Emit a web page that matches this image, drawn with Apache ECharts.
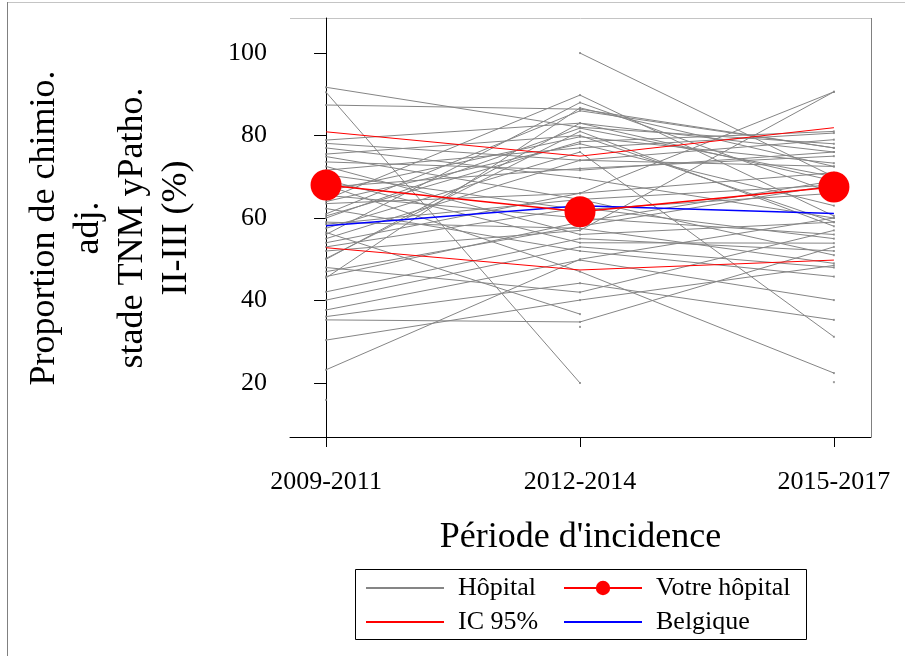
<!DOCTYPE html>
<html>
<head>
<meta charset="utf-8">
<script src="https://cdn.jsdelivr.net/npm/echarts@6/dist/echarts.min.js"></script>
<style>
  html, body { margin: 0; padding: 0; background: #fff; }
  #main { width: 905px; height: 656px; }
</style>
</head>
<body>
<div id="main"></div>
<script>
// périodes d'incidence
const periods = ['2009-2011', '2012-2014', '2015-2017'];
const yTicks = [20, 40, 60, 80, 100];

// valeurs par hôpital (une colonne par période, null = pas de donnée)
const hop2009 = [91.7, 90.5, 87.4, 78.9, 78.1, 77.0, 74.9, 73.6, 72.5, 71.6,
  69.2, 66.5, 65.5, 64.5, 63.5, 62.3, 61.0, 60.0, 59.0, 57.5,
  56.0, 55.0, 54.0, 50.2, 50.0, 45.8, 45.5, 42.1, 40.1, 37.7,
  36.1, 35.3, 30.4, 23.2, 15.9, null, 68.0, 70.5, 58.5, 52.0,
  48.0, 64.0, 67.5, 56.5, null, null, 60.5, 47.0, 75.5, 53.0];
const hop2012 = [82.0, 20.0, 86.4, 83.0, 74.0, 69.7, 64.5, 71.6, 56.0, 77.0,
  54.0, 79.7, 60.0, 89.8, 66.0, 52.0, 86.0, 81.8, 57.5, 76.0,
  88.0, 74.0, 66.0, 81.0, 83.0, 59.0, 86.7, 55.0, 53.0, 49.8,
  44.2, 34.8, 40.1, 50.0, null, 100.0, 47.0, 62.0, 64.5, 57.0,
  42.0, 78.0, 72.0, 36.7, 33.6, null, 78.5, 58.0, 80.0, 62.5];
const hop2015 = [78.0, null, 77.0, 69.0, 72.5, 60.0, 68.0, 76.0, 59.0, 80.6,
  53.9, 73.3, 56.0, 60.5, 71.0, 45.8, 77.0, 70.0, 49.0, 31.2,
  66.0, 79.0, 90.6, 58.0, 76.0, 69.0, 72.5, 52.0, 48.0, 40.1,
  35.3, 53.0, 48.5, 60.0, null, 70.0, 22.4, 66.0, 51.0, 90.6,
  57.0, 63.0, 75.0, null, null, 20.2, 81.0, 68.0, 59.0, 55.0];

const votreHopital = [68.0, 61.5, 67.5];
const icHaut = [80.9, 75.0, 81.9];
const icBas = [52.8, 47.4, 49.8];
const belgique = [58.1, 63.0, 61.1];

const toPoints = arr => arr.map((v, i) => [i, v == null ? '-' : v]);

const series = [];
for (let h = 0; h < hop2009.length; h++) {
  series.push({
    name: 'Hôpital',
    type: 'line',
    data: toPoints([hop2009[h], hop2012[h], hop2015[h]]),
    symbol: 'none',
    lineStyle: { color: '#858585', width: 1 },
    itemStyle: { color: '#858585' },
    silent: true,
    z: 2
  });
}
// petits repères aux points des hôpitaux
const pts = [];
[hop2009, hop2012, hop2015].forEach((col, i) => col.forEach(v => { if (v != null) pts.push([i, v]); }));
series.push({
  name: 'pts', type: 'scatter', data: pts, symbol: 'rect', symbolSize: [2, 2],
  itemStyle: { color: '#858585' }, silent: true, z: 2
});
series.push({
  name: 'IC 95%', type: 'line', data: toPoints(icHaut), symbol: 'none',
  lineStyle: { color: '#ff0000', width: 1 }, itemStyle: { color: '#ff0000' }, z: 3
});
series.push({
  name: 'IC 95%', type: 'line', data: toPoints(icBas), symbol: 'none',
  lineStyle: { color: '#ff0000', width: 1 }, itemStyle: { color: '#ff0000' }, z: 3
});
series.push({
  name: 'Belgique', type: 'line', data: toPoints(belgique), symbol: 'none',
  lineStyle: { color: '#0000ff', width: 1.5 }, itemStyle: { color: '#0000ff' }, z: 4
});
series.push({
  name: 'Votre hôpital', type: 'line', data: toPoints(votreHopital),
  symbol: 'circle', symbolSize: 31, showSymbol: true,
  lineStyle: { color: '#ff0000', width: 1.5 }, itemStyle: { color: '#ff0000' }, z: 5
});

const serif = '"Liberation Serif", "DejaVu Serif", serif';
const mkLegend = (name, left, top, hideSymbol, h) => ({
  data: [hideSymbol ? { name: name, itemStyle: { opacity: 0 } } : name],
  left: left, top: top, itemWidth: 78, itemHeight: h,
  textStyle: { fontFamily: serif, fontSize: 26, color: '#000', padding: [0, 0, 0, 9] },
  selectedMode: false, padding: 0
});

const chart = echarts.init(document.getElementById('main'));
chart.setOption({
  animation: false,
  backgroundColor: '#fff',
  grid: { left: 290, right: 34, top: 18, bottom: 219, show: false },
  xAxis: {
    type: 'value', min: -0.142, max: 2.146,
    name: "Période d'incidence", nameLocation: 'middle', nameGap: 83,
    nameTextStyle: { fontFamily: serif, fontSize: 36, color: '#000' },
    axisLine: { lineStyle: { color: '#000', width: 1 } },
    axisTick: { customValues: [0, 1, 2], length: 10, lineStyle: { color: '#000' } },
    axisLabel: {
      customValues: [0, 1, 2], margin: 32,
      formatter: v => periods[Math.round(v)],
      fontFamily: serif, fontSize: 26, color: '#000'
    },
    splitLine: { show: false }
  },
  yAxis: {
    type: 'value', min: 6.9, max: 108.5,
    axisLine: { show: true, lineStyle: { color: '#000', width: 1 } },
    axisTick: { show: true, customValues: yTicks, length: 12, lineStyle: { color: '#000' } },
    axisLabel: { customValues: yTicks, margin: 23, fontFamily: serif, fontSize: 26, color: '#000' },
    splitLine: { show: false }
  },
  legend: [
    mkLegend('Hôpital', 365, 575, true, 15),
    mkLegend('IC 95%', 365, 609, true, 15),
    mkLegend('Votre hôpital', 563, 575, false, 18),
    mkLegend('Belgique', 563, 609, true, 15)
  ],
  graphic: [
    { type: 'line', shape: { x1: 7, y1: 2.5, x2: 905, y2: 2.5 }, style: { stroke: '#c4c4c4', lineWidth: 1 } },
    { type: 'line', shape: { x1: 7.5, y1: 2, x2: 7.5, y2: 656 }, style: { stroke: '#808080', lineWidth: 1 } },
    { type: 'line', shape: { x1: 290, y1: 18.5, x2: 871, y2: 18.5 }, style: { stroke: '#c4c4c4', lineWidth: 1 } },
    { type: 'line', shape: { x1: 871.5, y1: 18, x2: 871.5, y2: 437 }, style: { stroke: '#808080', lineWidth: 1 } },
    { type: 'rect', shape: { x: 355.5, y: 569.5, width: 451, height: 70 }, style: { fill: 'none', stroke: '#000', lineWidth: 1 } },
    {
      type: 'text', x: 111, y: 228, rotation: Math.PI / 2,
      style: {
        text: 'Proportion de chimio.\nadj.\nstade TNM yPatho.\nII-III (%)',
        font: '36px ' + serif, fill: '#000', textAlign: 'center', textVerticalAlign: 'middle', lineHeight: 44
      }
    }
  ],
  series: series
});
</script>
</body>
</html>
